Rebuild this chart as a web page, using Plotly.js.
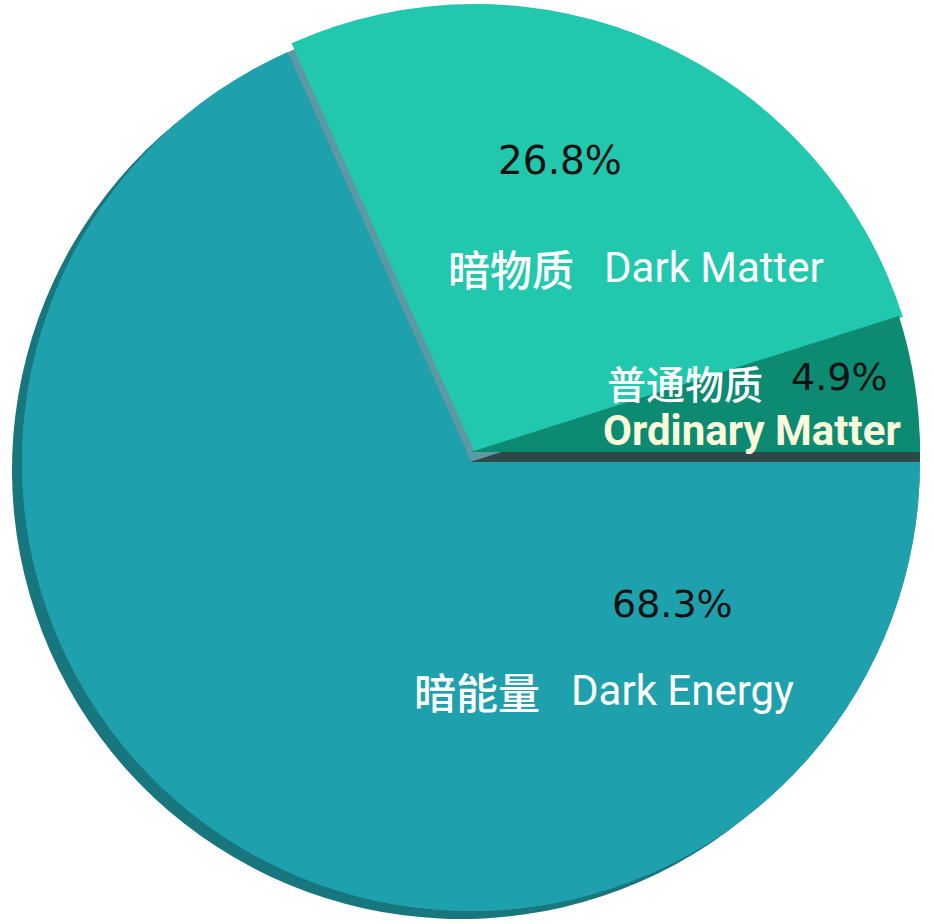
<!DOCTYPE html>
<html>
<head>
<meta charset="utf-8">
<script src="https://cdn.plot.ly/plotly-3.0.1.min.js"></script>
<style>
  html, body { margin: 0; padding: 0; background: #ffffff; }
  #chart { width: 934px; height: 924px; }
</style>
</head>
<body>
<div id="chart"></div>
<script>
// composition of the universe
var labelsZh = ['暗能量', '暗物质', '普通物质'];
var labelsEn = ['Dark Energy', 'Dark Matter', 'Ordinary Matter'];
var values = [68.3, 26.8, 4.9];
var pulls = [0, 0.022, 0];

var W = 934, H = 924;
var R = 449;          // pie radius in px
var CX = 471, CY = 462;

function px(x) { return x / W; }
function py(y) { return 1 - y / H; }

// domain box that gives radius R around (cx, cy) for a given max pull
function domainAt(cx, cy, maxPull) {
  var h = R * (1 + maxPull);
  return {
    x: [Math.max(0, (cx - h) / W), Math.min(1, (cx + h) / W)],
    y: [Math.max(0, 1 - (cy + h) / H), Math.min(1, 1 - (cy - h) / H)]
  };
}

function pieTrace(colors, domain, pull) {
  return {
    type: 'pie',
    values: values,
    labels: labelsEn,
    sort: false,
    direction: 'clockwise',
    rotation: 90,
    pull: pull,
    domain: domain,
    textinfo: 'none',
    hoverinfo: 'skip',
    showlegend: false,
    marker: { colors: colors, line: { width: 0 } }
  };
}

var clear = 'rgba(0,0,0,0)';
var data = [
  // dark rim seen at the lower left
  pieTrace(['#17767e', '#17767e', '#17767e'], domainAt(CX - 10, CY + 8, 0), [0, 0, 0]),
  // side walls showing through where slices are lifted
  pieTrace(['#1fa1ad', '#5b9aa4', '#2d4a48'], domainAt(CX, CY, 0), [0, 0, 0]),
  // top faces
  pieTrace(['#1fa1ad', '#22c8ae', '#2d4a48'], domainAt(CX, CY, 0.022), pulls),
  // raised ordinary matter slice
  pieTrace([clear, clear, '#0c8a72'], domainAt(CX, CY - 10, 0), [0, 0, 0])
];

// text blocks inside the slices
var pctFont = 'DejaVu Sans, sans-serif';
var nameFont = 'Roboto, "Noto Sans CJK SC", sans-serif';
var zhFont = '"Noto Sans CJK SC", sans-serif';

function note(text, x, y, anchor, size, color, family, weight) {
  return {
    text: text, xref: 'paper', yref: 'paper',
    x: px(x), y: py(y), xanchor: anchor, yanchor: 'middle',
    showarrow: false,
    font: { size: size, color: color, family: family, weight: weight || 'normal' }
  };
}

var annotations = [
  // dark energy
  note(values[0].toFixed(1) + '%', 672, 604, 'center', 38, '#111111', pctFont),
  note(labelsZh[0], 542, 690, 'right', 42, '#ffffff', zhFont, 500),
  note(labelsEn[0], 569, 690, 'left', 42, '#ffffff', nameFont),
  // dark matter
  note(values[1].toFixed(1) + '%', 560, 160, 'center', 39, '#111111', pctFont),
  note(labelsZh[1], 576, 267, 'right', 42, '#ffffff', zhFont, 500),
  note(labelsEn[1], 602, 267, 'left', 42, '#ffffff', nameFont),
  // ordinary matter
  note(labelsZh[2], 605, 382, 'left', 39, '#ffffff', zhFont, 500),
  note(values[2].toFixed(1) + '%', 839, 377, 'center', 38, '#111111', pctFont),
  note('<b>' + labelsEn[2] + '</b>', 752, 430, 'center', 42, '#fbfbdc', nameFont)
];

var layout = {
  width: W,
  height: H,
  margin: { l: 0, r: 0, t: 0, b: 0 },
  paper_bgcolor: '#ffffff',
  plot_bgcolor: '#ffffff',
  showlegend: false,
  annotations: annotations
};

Plotly.newPlot('chart', data, layout, { displayModeBar: false, staticPlot: true });
</script>
</body>
</html>
